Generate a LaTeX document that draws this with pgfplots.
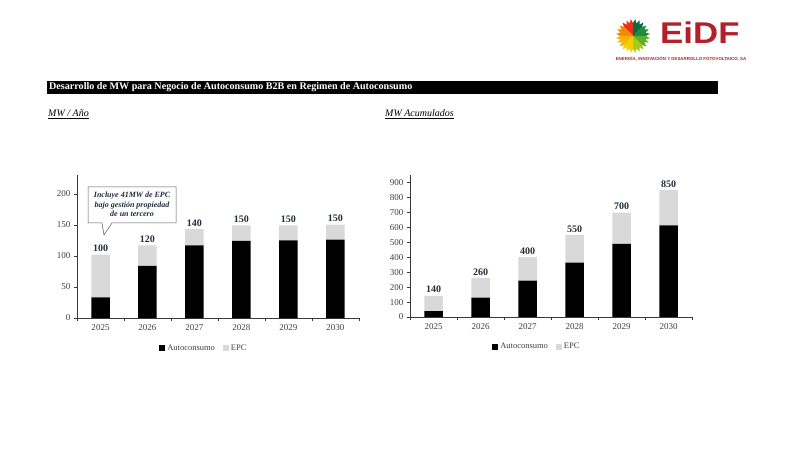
\documentclass[border=0pt]{standalone}
\usepackage{fontspec}
\setmainfont{Liberation Serif}
\newfontfamily\logofont{Liberation Sans}
\usepackage{pgfplots}
\pgfplotsset{compat=1.18}
\usepackage{pgfplotstable}

\definecolor{epc}{HTML}{D9D9D9}
\definecolor{lab}{HTML}{1F2D3D}
\definecolor{axc}{HTML}{3A3A3A}
\definecolor{tkc}{HTML}{404040}
\definecolor{eidf}{HTML}{B3202A}

\pgfplotstableread{
x a e z lab
0 33 69 0 100
1 84 33 0 120
2 117 26 0 140
3 124 25 0 150
4 125 24 0 150
5 126 24 0 150
}\annual

\pgfplotstableread{
x a e z lab
0 40 102 0 140
1 129 131 0 260
2 244 156 0 400
3 364 185 0 550
4 489 209 0 700
5 613 236 0 850
}\cumul

\pgfplotsset{
  mybar/.style={
    scale only axis, width=282pt,
    ybar stacked, bar width=18.5pt,
    stacked ignores zero=false,
    xmin=-0.5, xmax=5.5, ymin=0,
    axis x line*=bottom, axis y line*=left,
    axis line style={axc,-},
    xtick={0,...,5}, xticklabels={2025,2026,2027,2028,2029,2030},
    minor xtick={-0.5,0.5,...,5.5},
    every major x tick/.append style={draw=none},
    every minor x tick/.append style={axc},
    ytick style={axc},
    tick align=outside, major tick length=3pt, minor tick length=3pt,
    tick label style={font=\fontsize{9}{10}\selectfont, text=tkc},
    /pgf/number format/assume math mode=true,
    legend columns=2,
    legend style={draw=none, fill=none, font=\fontsize{8.5}{10}\selectfont, text=tkc,
      at={(0.45,-0.21)}, anchor=center,
      /tikz/every even column/.append style={column sep=6pt}},
    legend image code/.code={\fill[##1] (0pt,-3pt) rectangle (6pt,3pt);},
  },
  lbl/.style={nodes near coords, point meta=explicit symbolic,
    every node near coord/.append style={font=\bfseries\fontsize{10}{11}\selectfont, text=lab, anchor=south, inner sep=2.5pt}},
}

\begin{document}
\begin{tikzpicture}[x=1pt,y=1pt]
\path[use as bounding box] (0,0) rectangle (800,450);

% title bar
\fill[black] (47,356) rectangle (718,369);
\node[anchor=west, text=white, font=\bfseries\fontsize{10.1}{11}\selectfont, inner sep=0pt] at (49,362.5)
  {Desarrollo de MW para Negocio de Autoconsumo B2B en Regimen de Autoconsumo};

% subtitles
\node[anchor=west, inner sep=0pt, font=\itshape\fontsize{10}{11}\selectfont] at (48,336) {\underline{MW / Año}};
\node[anchor=west, inner sep=0pt, font=\itshape\fontsize{10}{11}\selectfont] at (385,336) {\underline{MW Acumulados}};

% logo
\begin{scope}[shift={(633,414)}]
  \foreach \a/\c in {90/E4321B,135/F18A00,180/F9B200,225/F5D000,270/A8C81E,315/5BAE2E,0/1E8C3A,45/0B6E3A}{
    \definecolor{tmp}{HTML}{\c}
    \fill[tmp] (0,0) -- (\a:13) -- (\a+7.5:17) -- (\a+15:13) -- (\a+22.5:17) -- (\a+30:13) -- (\a+37.5:17) -- (\a+45:13) -- cycle;
  }
\end{scope}
\node[text=eidf, font=\logofont\bfseries\fontsize{30}{30}\selectfont, xscale=1.16, inner sep=0pt, anchor=west] at (660,417.5) {EiDF};
\node[text=eidf, font=\logofont\bfseries\fontsize{4.4}{5}\selectfont, inner sep=0pt] at (681,391) {ENERGÍA, INNOVACIÓN Y DESARROLLO FOTOVOLTAICO, SA};

% left chart
\begin{axis}[mybar, at={(77pt,132pt)}, anchor=south west, height=143pt,
  ymax=230, ytick={0,50,100,150,200}]
  \addplot[fill=black, draw=none] table[x=x, y=a] {\annual};
  \addlegendentry{Autoconsumo}
  \addplot[fill=epc, draw=none] table[x=x, y=e] {\annual};
  \addlegendentry{EPC}
  \addplot[draw=none, fill=none, forget plot, lbl] table[x=x, y=z, meta=lab] {\annual};
\end{axis}

% callout
\draw[gray!70!black, fill=white, line width=0.5pt] (88,263) -- (176,263) -- (176,227) -- (112,227) -- (104,215) -- (102,227) -- (88,227) -- cycle;
\node[align=center, font=\bfseries\itshape\fontsize{8}{9.6}\selectfont, text=lab, inner sep=0pt] at (132,245.5)
  {Incluye 41MW de EPC\\bajo gestión propiedad\\de un tercero};

% right chart
\begin{axis}[mybar, at={(410pt,133pt)}, anchor=south west, height=142pt,
  ymax=950, ytick={0,100,...,900}]
  \addplot[fill=black, draw=none] table[x=x, y=a] {\cumul};
  \addlegendentry{Autoconsumo}
  \addplot[fill=epc, draw=none] table[x=x, y=e] {\cumul};
  \addlegendentry{EPC}
  \addplot[draw=none, fill=none, forget plot, lbl] table[x=x, y=z, meta=lab] {\cumul};
\end{axis}
\end{tikzpicture}
\end{document}
